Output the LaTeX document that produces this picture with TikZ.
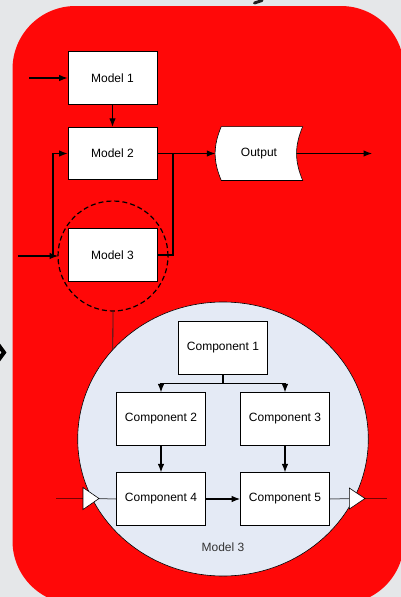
\documentclass[tikz,border=0pt]{standalone}
\usepackage{fontspec}
\setmainfont{Liberation Sans}
\usepackage{tikz}
\usetikzlibrary{positioning,arrows,arrows.meta,shapes}

\definecolor{slidered}{RGB}{255,8,8}
\definecolor{slidegray}{RGB}{229,231,233}
\definecolor{bubble}{RGB}{228,234,245}

\begin{document}
\begin{tikzpicture}[x=1pt, y=-1pt, inner sep=0.4mm,
		block/.style={draw, fill=white, line width=0.8pt, minimum width=89pt, minimum height=52.5pt, font=\fontsize{12}{14}\selectfont},
		flow/.style={-{Latex[length=8.5pt,width=6.5pt]}, line width=1.1pt},
		wire/.style={draw=black, opacity=0.55, line width=1pt},
		port/.style={fill=white, draw=black, line width=0.6pt}]
		\useasboundingbox (0,0) rectangle (401,597);
		\clip (0,0) rectangle (401,597);
		\fill [slidegray] (0,0) rectangle (401,597);
		
		% slide fragments cut off by the frame
		\draw [line width=4pt] (-3,343) -- (4,352.5) -- (-3,362);
		\draw [line width=3pt, gray!25!black, line cap=round] (254.5,3) -- (262,0.5);
		
		\fill [slidered, rounded corners=63pt] (12.5,6) rectangle (404,604);
		
		% top level models
		\node [block] (m1) at (112.5,78) {Model 1};
		\node [block] (m2) at (112.5,153.5) {Model 2};
		\node [block] (m3) at (112.5,255) {Model 3};
		\node [font=\fontsize{12}{14}\selectfont, minimum width=81pt, minimum height=53.5pt] (out) at (262,153.5) {};
		\filldraw [fill=white, draw=black, line width=0.6pt] (out.north west) -- (out.north east) to[bend right=23] (out.south east) -- (out.south west) to[bend left=23] (out.north west) -- cycle;
		\node [font=\fontsize{12}{14}\selectfont] (outtext) at (259,153.5) {Output};
		
		\node [circle, draw, dashed, dash pattern=on 5pt off 3pt, line width=1.2pt, minimum size=110pt, inner sep=0pt, outer sep=0pt] (grp) at (113,256) {};
		
		\coordinate (in1) at (29,78);
		\coordinate (in3) at (18,256);
		\coordinate (split) at (53,256);
		\coordinate (merge) at (173,153.5);
		\coordinate (outend) at (372,153.5);
		
		\draw [flow] (in1) -- (m1.west);
		\draw [flow] (m1) -- (m2);
		\draw [flow] (in3) -- (grp.west);
		\draw [flow] (split) |- (m2.west);
		\draw [line width=1.1pt] (m3.east) -| (merge);
		\draw [flow] (m2.east) -- ([xshift=-6pt]out.west);
		\draw [flow] ([xshift=-6pt]out.east) -- (outend);
		
		% zoom into model 3
		\node [ellipse, draw, fill=bubble, line width=0.6pt, minimum width=290.6pt, minimum height=274pt, inner sep=0pt, outer sep=0pt] (zoomc) at (223,439) {};
		\draw [line width=0.8pt, black!85] (grp.south) -- (zoomc.141);
		
		\node [block, line width=0.7pt] (c1) at (223,348) {Component 1};
		\node [block, line width=0.7pt] (c2) at (161,419) {Component 2};
		\node [block, line width=0.7pt] (c3) at (285,419) {Component 3};
		\node [block, line width=0.7pt] (c4) at (161,499) {Component 4};
		\node [block, line width=0.7pt] (c5) at (285,499) {Component 5};
		\node [font=\fontsize{12}{14}\selectfont, text=black!80] (zlabel) at (223,547.5) {Model 3};
		
		\coordinate (fork) at (223,383.5);
		\draw [line width=1.1pt] (c1.south) -- (fork);
		\draw [flow] (fork) -| (c2.north);
		\draw [flow] (fork) -| (c3.north);
		\draw [flow] (c2) -- (c4);
		\draw [flow] (c3) -- (c5);
		\draw [flow] (c4) -- (c5);
		
		% ports
		\coordinate (inL) at (56,498.5);
		\coordinate (pinL) at (83,498.5);
		\coordinate (pinLtip) at (99,498.5);
		\coordinate (pinR) at (349.3,498.5);
		\coordinate (pinRtip) at (365,498.5);
		\coordinate (outR) at (387,498.5);
		\draw [wire] (inL) -- (pinL);
		\draw [wire] (pinLtip) -- (c4.west);
		\draw [wire] (c5.east) -- (pinR);
		\draw [wire] (pinRtip) -- (outR);
		\filldraw [port] (83,487.5) -- (pinLtip) -- (83,509.5) -- cycle;
		\filldraw [port] (349.3,488) -- (pinRtip) -- (349.3,509) -- cycle;
		
		\end{tikzpicture}
\end{document}
